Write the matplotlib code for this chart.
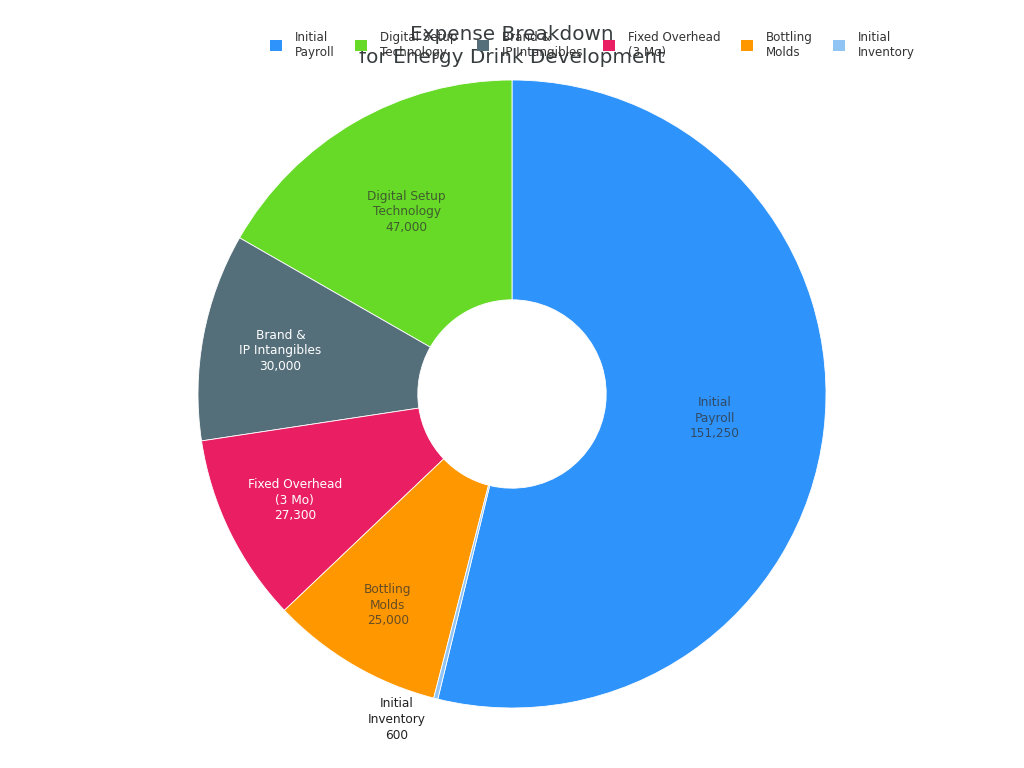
import matplotlib.pyplot as plt
from matplotlib.patches import Patch
import numpy as np

labels = ['Initial\nPayroll', 'Digital Setup\nTechnology', 'Brand &\nIP Intangibles',
          'Fixed Overhead\n(3 Mo)', 'Bottling\nMolds', 'Initial\nInventory']
values = [151250, 47000, 30000, 27300, 25000, 600]
colors = ['#2E93FA', '#66DA26', '#546E7A', '#E91E63', '#FF9800', '#90C4F5']
text_colors = ['#333333', '#333333', 'white', 'white', '#333333', '#333333']
label_r = [0.65, 0.67, 0.75, 0.77, 0.78, 1.1]

fig = plt.figure(figsize=(10.24, 7.68), dpi=100)
ax = fig.add_axes([198 / 1024, 60 / 768, 628 / 1024, 628 / 768])

total = sum(values)
start = 90 - 360 * values[0] / total
wedges, _ = ax.pie(values, colors=colors, startangle=start, counterclock=True,
                   radius=1.0, wedgeprops=dict(width=0.7, edgecolor='white', linewidth=0.6))

for i, w in enumerate(wedges):
    mid = np.deg2rad((w.theta1 + w.theta2) / 2)
    txt = labels[i] + '\n' + f'{values[i]:,}'
    r = label_r[i]
    if values[i] / total < 0.02:
        # tiny slice: label outside
        mid -= np.deg2rad(5.5)
        ax.text(r * np.cos(mid), r * np.sin(mid), txt, ha='center', va='center',
                fontsize=8.7, color='#222222', linespacing=1.3)
    else:
        alpha = 1.0 if text_colors[i] == 'white' else 0.75
        ax.text(r * np.cos(mid), r * np.sin(mid), txt, ha='center', va='center',
                fontsize=8.7, color=text_colors[i], alpha=alpha, linespacing=1.25)

ax.set_xlim(-1, 1)
ax.set_ylim(-1, 1)
ax.set_aspect('equal')
ax.axis('off')

fig.text(0.5, 1 - 46 / 768, 'Expense Breakdown\nfor Energy Drink Development', ha='center',
         va='center', fontsize=14.4, color='#373d3f', linespacing=1.3)

handles = [Patch(facecolor=c, edgecolor='none') for c in colors]
fig.legend(handles, labels, loc='upper left', bbox_to_anchor=(259 / 1024, 1 - 20 / 768),
           ncol=6, frameon=False, fontsize=8.6, handlelength=1.0, handleheight=1.0,
           handletextpad=1.1, columnspacing=1.68, labelcolor='#333333', labelspacing=0.3)

fig.savefig('out.png', dpi=100)
